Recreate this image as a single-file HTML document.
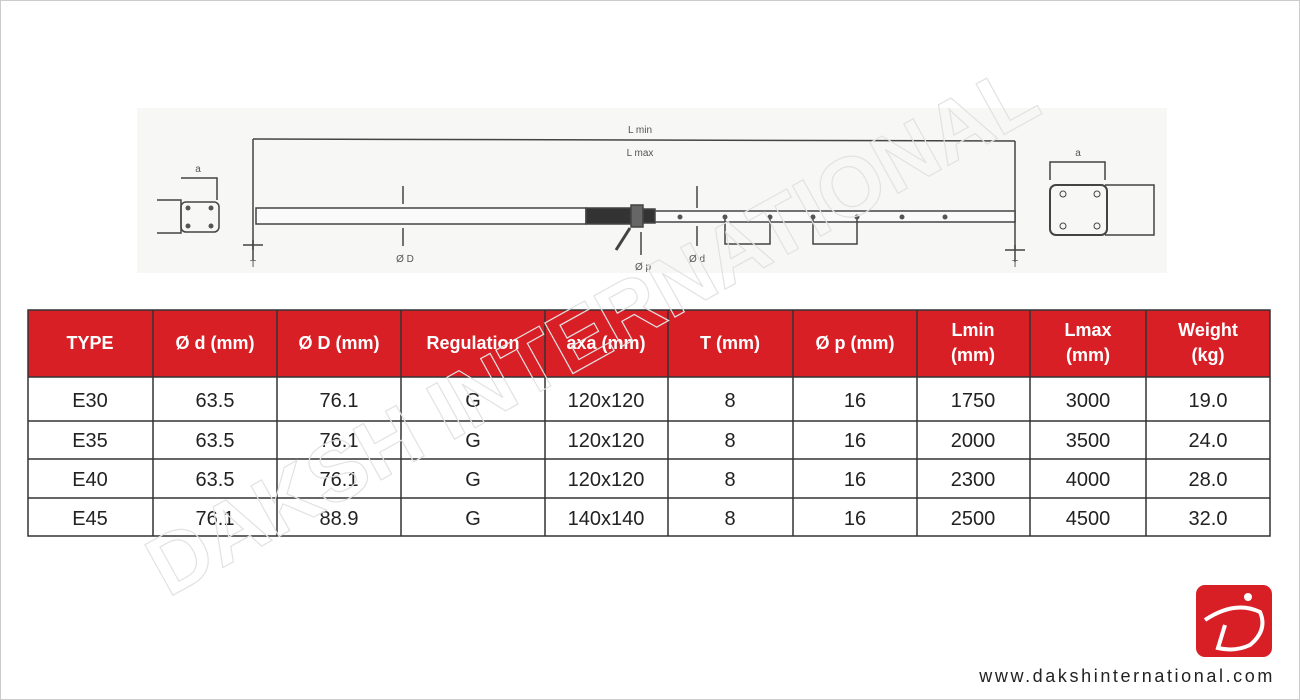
<!DOCTYPE html>
<html><head><meta charset="utf-8"><style>
body{margin:0;background:#fff;}
svg{display:block}
.h{font:bold 18px "Liberation Sans",sans-serif;fill:#fff;text-anchor:middle}
.c{font:20px "Liberation Sans",sans-serif;fill:#222;text-anchor:middle}
.s{font:10px "Liberation Sans",sans-serif;fill:#555;text-anchor:middle}
</style></head><body>
<svg width="1300" height="700" viewBox="0 0 1300 700" xmlns="http://www.w3.org/2000/svg">
<rect x="0.5" y="0.5" width="1299" height="699" fill="#fff" stroke="#ccc"/>
<rect x="137" y="108" width="1030" height="165" fill="#f7f7f5"/>
<g stroke="#444" fill="none" stroke-width="1.5">
<line x1="253" y1="139" x2="1015" y2="141"/>
<line x1="253" y1="139" x2="253" y2="250"/>
<line x1="1015" y1="141" x2="1015" y2="250"/>
<rect x="256" y="208" width="330" height="16" fill="#fafafa"/>
<rect x="586" y="208" width="45" height="16" fill="#333"/>
<rect x="631" y="205" width="12" height="22" fill="#666"/>
<rect x="643" y="209" width="12" height="14" fill="#333"/>
<rect x="655" y="211" width="360" height="11" fill="#fafafa"/>
<line x1="616" y1="250" x2="630" y2="228" stroke-width="3"/>
<line x1="403" y1="186" x2="403" y2="204"/><line x1="403" y1="228" x2="403" y2="246"/>
<line x1="697" y1="186" x2="697" y2="208"/><line x1="697" y1="226" x2="697" y2="246"/>
<line x1="641" y1="232" x2="641" y2="255"/>
<path d="M725 217V244H770V217M813 217V244H857V217"/>
<path d="M181 178H217V200M157 200H181V233H157"/>
<rect x="181" y="202" width="38" height="30" rx="5"/>
<path d="M1050 180V162H1105V180M1105 185H1154V235H1105"/>
<rect x="1050" y="185" width="57" height="50" rx="6" stroke-width="2"/>
<path d="M243 245H263M253 240V260M1005 250H1025M1015 245V262"/>
</g>
<g fill="#555">
<circle cx="188" cy="208" r="2.5"/><circle cx="211" cy="208" r="2.5"/><circle cx="188" cy="226" r="2.5"/><circle cx="211" cy="226" r="2.5"/>
<circle cx="1063" cy="194" r="3" fill="none" stroke="#444"/><circle cx="1097" cy="194" r="3" fill="none" stroke="#444"/>
<circle cx="1063" cy="226" r="3" fill="none" stroke="#444"/><circle cx="1097" cy="226" r="3" fill="none" stroke="#444"/>
<circle cx="680" cy="217" r="2.5"/><circle cx="725" cy="217" r="2.5"/><circle cx="770" cy="217" r="2.5"/><circle cx="813" cy="217" r="2.5"/><circle cx="857" cy="217" r="2.5"/><circle cx="902" cy="217" r="2.5"/><circle cx="945" cy="217" r="2.5"/>
</g>
<text x="640" y="133" class="s" font-size="12">L min</text>
<text x="640" y="156" class="s" font-size="12">L max</text>
<text x="198" y="172" class="s">a</text><text x="1078" y="156" class="s" font-size="12">a</text>
<text x="405" y="262" class="s" font-size="12">Ø D</text><text x="697" y="262" class="s" font-size="12">Ø d</text>
<text x="643" y="270" class="s" font-size="12">Ø p</text>
<text x="253" y="267" class="s" font-size="13">T</text><text x="1015" y="267" class="s" font-size="13">T</text>
<rect x="28" y="310" width="1242" height="67" fill="#d91f26"/>
<g stroke="#333" stroke-width="1.5">
<rect x="28" y="310" width="1242" height="226" fill="none"/>
<line x1="28" y1="377" x2="1270" y2="377"/><line x1="28" y1="421" x2="1270" y2="421"/>
<line x1="28" y1="459" x2="1270" y2="459"/><line x1="28" y1="498" x2="1270" y2="498"/>
<path d="M153 310V536M277 310V536M401 310V536M545 310V536M668 310V536M793 310V536M917 310V536M1030 310V536M1146 310V536"/>
</g>
<text x="90" y="349" class="h">TYPE</text><text x="215" y="349" class="h">Ø d (mm)</text><text x="339" y="349" class="h">Ø D (mm)</text>
<text x="473" y="349" class="h">Regulation</text><text x="606" y="349" class="h">axa (mm)</text><text x="730" y="349" class="h">T (mm)</text>
<text x="855" y="349" class="h">Ø p (mm)</text>
<text x="973" y="336" class="h">Lmin</text><text x="973" y="361" class="h">(mm)</text>
<text x="1088" y="336" class="h">Lmax</text><text x="1088" y="361" class="h">(mm)</text>
<text x="1208" y="336" class="h">Weight</text><text x="1208" y="361" class="h">(kg)</text>
<g>
<text x="90" y="407" class="c">E30</text><text x="215" y="407" class="c">63.5</text><text x="339" y="407" class="c">76.1</text><text x="473" y="407" class="c">G</text><text x="606" y="407" class="c">120x120</text><text x="730" y="407" class="c">8</text><text x="855" y="407" class="c">16</text><text x="973" y="407" class="c">1750</text><text x="1088" y="407" class="c">3000</text><text x="1208" y="407" class="c">19.0</text>
<text x="90" y="447" class="c">E35</text><text x="215" y="447" class="c">63.5</text><text x="339" y="447" class="c">76.1</text><text x="473" y="447" class="c">G</text><text x="606" y="447" class="c">120x120</text><text x="730" y="447" class="c">8</text><text x="855" y="447" class="c">16</text><text x="973" y="447" class="c">2000</text><text x="1088" y="447" class="c">3500</text><text x="1208" y="447" class="c">24.0</text>
<text x="90" y="486" class="c">E40</text><text x="215" y="486" class="c">63.5</text><text x="339" y="486" class="c">76.1</text><text x="473" y="486" class="c">G</text><text x="606" y="486" class="c">120x120</text><text x="730" y="486" class="c">8</text><text x="855" y="486" class="c">16</text><text x="973" y="486" class="c">2300</text><text x="1088" y="486" class="c">4000</text><text x="1208" y="486" class="c">28.0</text>
<text x="90" y="525" class="c">E45</text><text x="215" y="525" class="c">76.1</text><text x="339" y="525" class="c">88.9</text><text x="473" y="525" class="c">G</text><text x="606" y="525" class="c">140x140</text><text x="730" y="525" class="c">8</text><text x="855" y="525" class="c">16</text><text x="973" y="525" class="c">2500</text><text x="1088" y="525" class="c">4500</text><text x="1208" y="525" class="c">32.0</text>
</g>
<text x="0" y="0" transform="translate(168,598) rotate(-29)" font-family="Liberation Sans" font-weight="bold" font-size="84" fill="none" stroke="#e2e2e2" stroke-width="1.2">DAKSH INTERNATIONAL</text>
<rect x="1196" y="585" width="76" height="72" rx="9" fill="#d91f26"/>
<path d="M1205 620Q1235 600 1260 612Q1268 630 1250 645Q1235 652 1218 648L1225 625" fill="none" stroke="#fff" stroke-width="4"/>
<circle cx="1248" cy="597" r="4" fill="#fff"/>
<text x="1275" y="682" font-family="Liberation Sans" font-size="18" letter-spacing="2.6" fill="#222" text-anchor="end">www.dakshinternational.com</text>
</svg>
</body></html>
